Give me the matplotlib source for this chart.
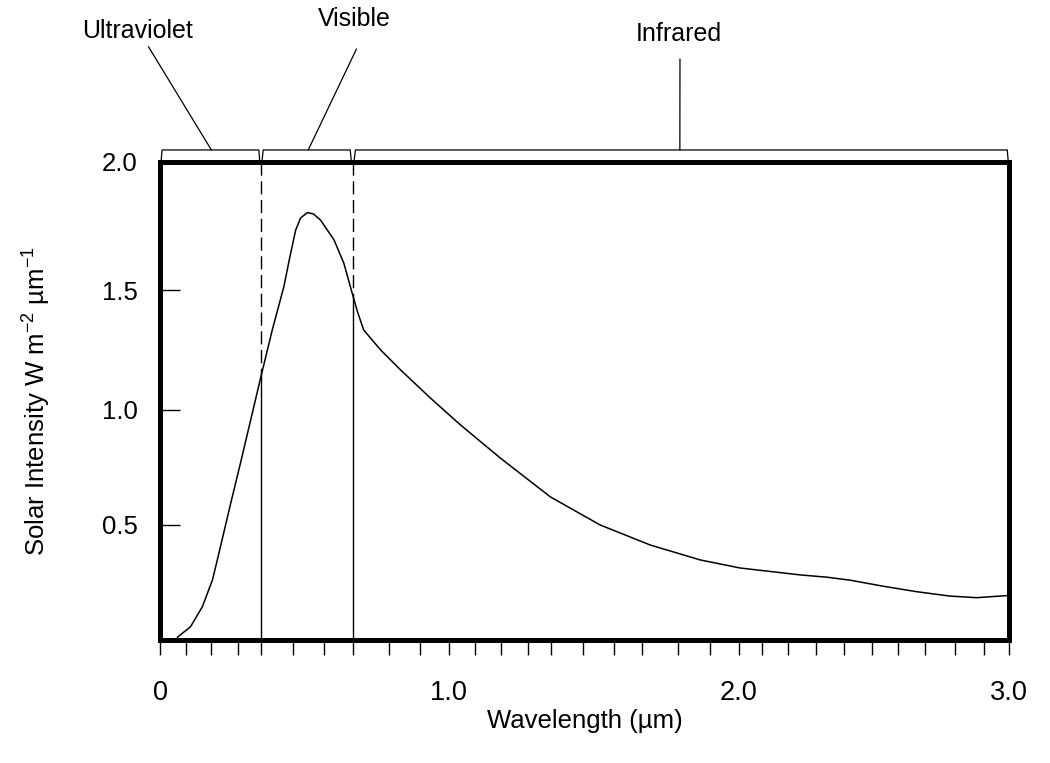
import numpy as np
import matplotlib
matplotlib.use('Agg')
import matplotlib.pyplot as plt
from matplotlib.patches import ConnectionPatch

plt.rcParams['font.family'] = ['Liberation Sans', 'DejaVu Sans']
plt.rcParams['mathtext.fontset'] = 'custom'
plt.rcParams['mathtext.rm'] = 'Liberation Sans'
plt.rcParams['mathtext.it'] = 'Liberation Sans:italic'

# solar spectrum (wavelength in um, W m-2 um-1)
wavelength = [0.068, 0.119, 0.165, 0.204, 0.222, 0.271, 0.310, 0.400, 0.436,
              0.472, 0.490, 0.509, 0.525, 0.547, 0.567, 0.590, 0.636, 0.670,
              0.699, 0.714, 0.731, 0.778, 0.838, 0.935, 1.044, 1.197, 1.396,
              1.556, 1.722, 1.869, 2.007, 2.243, 2.340, 2.422, 2.542, 2.669,
              2.783, 2.874, 2.990]
intensity = [0.012, 0.058, 0.145, 0.261, 0.348, 0.591, 0.771, 1.134, 1.334,
             1.514, 1.626, 1.734, 1.781, 1.802, 1.797, 1.773, 1.696, 1.605,
             1.487, 1.409, 1.334, 1.251, 1.167, 1.050, 0.935, 0.791, 0.622,
             0.500, 0.413, 0.348, 0.313, 0.283, 0.273, 0.260, 0.234, 0.210,
             0.191, 0.184, 0.193]

# spectral bands (um)
bands = ['Ultraviolet', 'Visible', 'Infrared']
band_edges = [0.0, 0.4, 0.7, 3.0]
band_marks = [0.2, 0.55, 1.805]

# the original axes are drawn by hand, so the ticks are not evenly spaced:
# where each tick sits along the axis (pixels from the origin)
x_tick_vals = np.round(np.arange(0, 3.01, 0.1), 1)
x_tick_px = [0, 25.7, 51.4, 78.4, 100.7, 133, 163.7, 192.7, 228.7, 260.7, 289,
             315.7, 341.4, 368.4, 391.7, 423, 454.4, 482.7, 518.7, 550.7, 579,
             603, 629, 656.4, 684.7, 712.4, 739, 765.7, 795.7, 825, 850]
y_tick_vals = [0.0, 0.5, 1.0, 1.5, 2.0]
y_tick_px = [0, 115, 230, 349.7, 478.3]


def hand_scale(vals, px):
    vals = np.asarray(vals, float)
    px = np.asarray(px, float)
    s0 = (px[1] - px[0]) / (vals[1] - vals[0])
    s1 = (px[-1] - px[-2]) / (vals[-1] - vals[-2])
    v = np.concatenate([[vals[0] - 10], vals, [vals[-1] + 10]])
    p = np.concatenate([[px[0] - 10 * s0], px, [px[-1] + 10 * s1]])
    return (lambda a: np.interp(a, v, p)), (lambda a: np.interp(a, p, v))


fig = plt.figure(figsize=(10.5, 7.63), dpi=100)
ax = fig.add_axes([0.1524, 0.1612, 0.8088, 0.6269])
ax.set_xscale('function', functions=hand_scale(x_tick_vals, x_tick_px))
ax.set_yscale('function', functions=hand_scale(y_tick_vals, y_tick_px))
ax.set_xlim(0, 3.0)
ax.set_ylim(0, 2.0)

ax.plot(wavelength, intensity, color='black', lw=1.1)

# band boundaries: solid under the curve, dashed above it
for edge in band_edges[1:-1]:
    y_cross = np.interp(edge, wavelength, intensity)
    ax.plot([edge, edge], [0, y_cross], color='black', lw=1.0)
    ax.plot([edge, edge], [2.0, y_cross], color='black', lw=1.0,
            linestyle=(0, (9.5, 4)))

# brackets over the top axis
top = 1.0245
trans = ax.get_xaxis_transform()
for i in range(len(bands)):
    a = band_edges[i] + 0.004
    b = band_edges[i + 1] - 0.004
    ax.plot([a, a + 0.004, b - 0.004, b], [1.0, top, top, 1.0],
            color='black', lw=0.9, transform=trans, clip_on=False)

label_pos = [(0.1314, 0.9594), (0.337, 0.975), (0.6467, 0.9554)]
leader_start = [(0.1414, 0.9388), (0.3395, 0.9358), (0.6476, 0.9227)]
for name, mark, lp, ls in zip(bands, band_marks, label_pos, leader_start):
    fig.text(lp[0], lp[1], name, ha='center', va='center', fontsize=18)
    con = ConnectionPatch(xyA=ls, coordsA='figure fraction',
                          xyB=(mark, top), coordsB=trans,
                          color='black', lw=0.9)
    fig.add_artist(con)

x_labels = []
for v in x_tick_vals:
    if v == 0:
        x_labels.append('0')
    elif v in (1.0, 2.0, 3.0):
        x_labels.append('%.1f' % v)
    else:
        x_labels.append('')
ax.set_xticks(x_tick_vals)
ax.set_xticklabels(x_labels)
ax.set_yticks([0.5, 1.0, 1.5, 2.0])
ax.set_yticklabels(['0.5', '1.0', '1.5', '2.0'])
ax.tick_params(axis='x', direction='out', length=11, width=1, pad=18,
               labelsize=19.5)
ax.tick_params(axis='y', direction='in', length=14.5, width=1, pad=16,
               labelsize=18.5)

for sp in ax.spines.values():
    sp.set_linewidth(3.6)

ax.set_xlabel('Wavelength (µm)', fontsize=18.5, labelpad=2)
ax.set_ylabel('Solar Intensity W m$^{-2}$ µm$^{-1}$', fontsize=18.5,
              labelpad=35)

fig.savefig('out.png', dpi=100)
